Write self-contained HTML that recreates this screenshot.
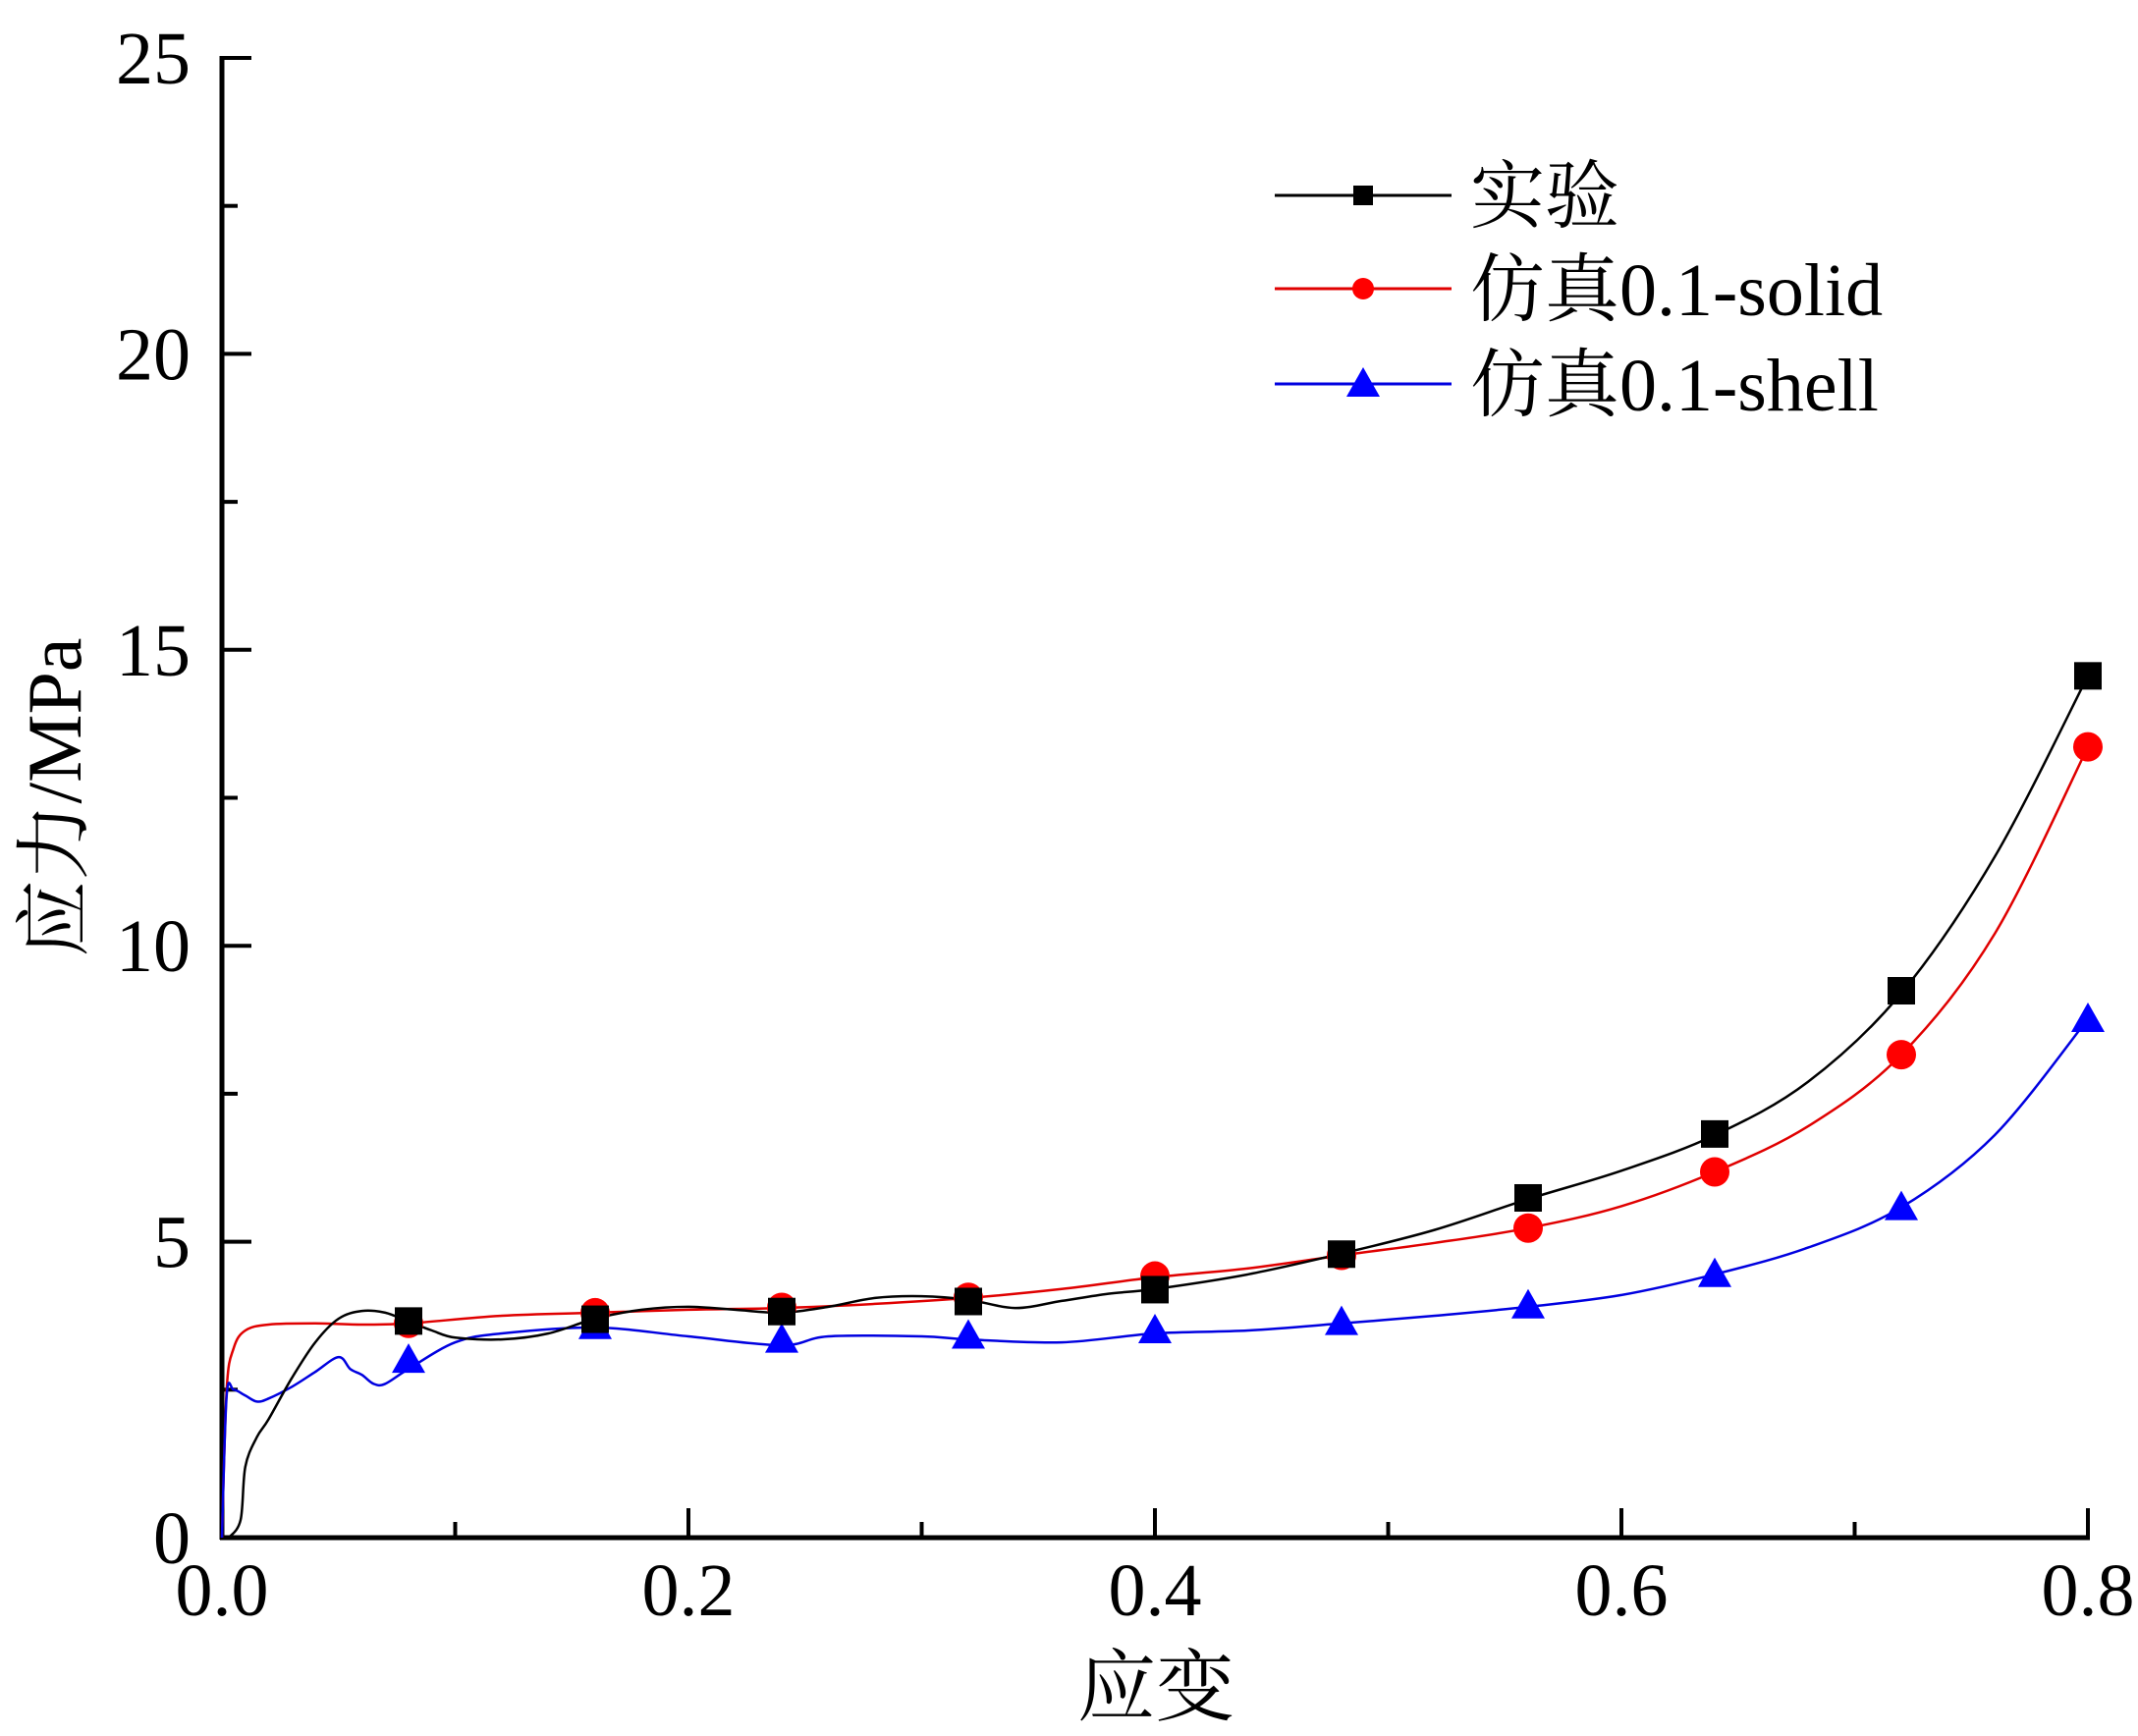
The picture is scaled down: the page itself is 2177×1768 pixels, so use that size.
<!DOCTYPE html>
<html><head><meta charset="utf-8">
<style>html,body{margin:0;padding:0;background:#fff}svg{display:block}</style></head>
<body>
<svg id="chart" width="2177" height="1768" xmlns="http://www.w3.org/2000/svg" font-family="'Liberation Serif','Noto Serif CJK SC','Noto Sans CJK SC',serif">
<g id="axes"></g>
<g id="series"></g>
<g id="legend"></g>
<text x="1177" y="1746" font-size="80" text-anchor="middle">应变</text>
<text transform="translate(82,812) rotate(-90)" font-size="78" text-anchor="middle">应力/MPa</text>
</svg>
<script>
const xTicks=[0,0.2,0.4,0.6,0.8];
const xTickLabels=["0.0","0.2","0.4","0.6","0.8"];
const yTicks=[0,5,10,15,20,25];
const yTickLabels=["0","5","10","15","20","25"];
const markerX=[0.08,0.16,0.24,0.32,0.40,0.48,0.56,0.64,0.72,0.80];
const expMarkers=[3.66,3.69,3.82,3.99,4.19,4.79,5.74,6.82,9.24,14.56];
const solidMarkers=[3.62,3.80,3.89,4.06,4.42,4.77,5.23,6.18,8.16,13.36];
const shellMarkers=[3.0,3.57,3.34,3.41,3.50,3.64,3.92,4.45,5.58,8.76];
const expX=[0.003,0.008,0.01,0.015,0.02,0.03,0.04,0.05,0.06,0.07,0.08,0.09,0.1,0.12,0.14,0.16,0.18,0.2,0.22,0.24,0.26,0.28,0.3,0.32,0.34,0.36,0.38,0.4,0.44,0.48,0.52,0.56,0.6,0.64,0.68,0.72,0.76,0.8];
const expY=[0,0.3,1.2,1.7,2.0,2.7,3.3,3.7,3.83,3.8,3.65,3.5,3.38,3.35,3.45,3.7,3.85,3.9,3.85,3.8,3.9,4.05,4.08,4.02,3.88,4.0,4.12,4.2,4.45,4.8,5.2,5.72,6.2,6.8,7.7,9.2,11.5,14.56];
const solidX=[0,0.002,0.005,0.01,0.02,0.04,0.06,0.08,0.12,0.16,0.2,0.24,0.28,0.32,0.36,0.4,0.44,0.48,0.52,0.56,0.6,0.64,0.68,0.72,0.76,0.8];
const solidY=[0,2.5,3.2,3.5,3.6,3.62,3.6,3.62,3.75,3.8,3.85,3.88,3.95,4.05,4.2,4.4,4.55,4.77,4.98,5.23,5.6,6.18,6.95,8.16,10.2,13.36];
const shellX=[0,0.002,0.005,0.01,0.015,0.02,0.03,0.04,0.05,0.055,0.06,0.065,0.07,0.08,0.1,0.12,0.16,0.2,0.24,0.26,0.3,0.32,0.36,0.4,0.44,0.48,0.52,0.56,0.6,0.64,0.68,0.72,0.76,0.8];
const shellY=[0,2.4,2.5,2.4,2.3,2.35,2.55,2.8,3.05,2.85,2.75,2.6,2.6,2.85,3.3,3.45,3.55,3.4,3.25,3.4,3.4,3.35,3.3,3.45,3.5,3.62,3.75,3.9,4.1,4.45,4.9,5.58,6.8,8.76];

const NS="http://www.w3.org/2000/svg";
const X0=226,X1=2126,Y0=1566,Y1=59;
const sx=v=>X0+(v/0.8)*(X1-X0);
const sy=v=>Y0-(v/25)*(Y0-Y1);
function mk(tag,parent,attrs){const e=document.createElementNS(NS,tag);for(const k in attrs)e.setAttribute(k,attrs[k]);parent.appendChild(e);return e;}
const axes=document.getElementById('axes');
let e;
e=mk('line',axes,{x1:X0,y1:Y0+2,x2:X0,y2:Y1-2,stroke:'#000','stroke-width':5});


e=mk('line',axes,{x1:X0-2,y1:Y0,x2:X1+2,y2:Y0,stroke:'#000','stroke-width':5});


xTicks.forEach((v,i)=>{
  e=mk('line',axes,{x1:sx(v),y1:Y0,x2:sx(v),y2:Y0-30,stroke:'#000','stroke-width':4});
  
  
  if(i<xTicks.length-1){e=mk('line',axes,{x1:sx(v+0.1),y1:Y0,x2:sx(v+0.1),y2:Y0-16,stroke:'#000','stroke-width':4});
  
  }
  e=mk('text',axes,{x:sx(v),y:1645,'font-size':76,'text-anchor':'middle'});
  e.textContent=xTickLabels[i];
  
  
});
yTicks.forEach((v,i)=>{
  e=mk('line',axes,{x1:X0,y1:sy(v),x2:X0+30,y2:sy(v),stroke:'#000','stroke-width':4});
  
  
  if(i<yTicks.length-1){e=mk('line',axes,{x1:X0,y1:sy(v+2.5),x2:X0+16,y2:sy(v+2.5),stroke:'#000','stroke-width':4});
  
  }
  e=mk('text',axes,{x:194,y:sy(v)+26,'font-size':76,'text-anchor':'end'});
  e.textContent=yTickLabels[i];
  
  
});
const ser=document.getElementById('series');
function line(xs,ys,color,name){
  const P=xs.map((x,i)=>[sx(x),sy(ys[i])]);
  let d='M'+P[0][0].toFixed(1)+','+P[0][1].toFixed(1);
  for(let i=0;i<P.length-1;i++){
    const p0=P[Math.max(0,i-1)],p1=P[i],p2=P[i+1],p3=P[Math.min(P.length-1,i+2)];
    const c1=[p1[0]+(p2[0]-p0[0])/6,p1[1]+(p2[1]-p0[1])/6];
    const c2=[p2[0]-(p3[0]-p1[0])/6,p2[1]-(p3[1]-p1[1])/6];
    d+='C'+c1.map(v=>v.toFixed(1)).join(',')+' '+c2.map(v=>v.toFixed(1)).join(',')+' '+p2.map(v=>v.toFixed(1)).join(',');
  }
  const el=mk('path',ser,{d:d,fill:'none',stroke:color,'stroke-width':2.5,'stroke-linejoin':'round'});
  
  
}
function marker(kind,x,y,color,parent){
  let m;
  if(kind==='sq')m=mk('rect',parent,{x:x-14,y:y-14,width:28,height:28,fill:color});
  else if(kind==='ci')m=mk('circle',parent,{cx:x,cy:y,r:15,fill:color});
  else m=mk('polygon',parent,{points:`${x},${y-17} ${x-17},${y+13} ${x+17},${y+13}`,fill:color});
  return m;
}
line(solidX,solidY,'#e00000','solid-line');
line(shellX,shellY,'#0000e0','shell-line');
line(expX,expY,'#000','experiment-line');
markerX.forEach((x,i)=>{
  let m=marker('ci',sx(x),sy(solidMarkers[i]),'#ff0000',ser);
  
  
  m=marker('tr',sx(x),sy(shellMarkers[i]),'#0000ff',ser);
  
  
  m=marker('sq',sx(x),sy(expMarkers[i]),'#000',ser);
  
  
});
const leg=document.getElementById('legend');
const legItems=[["实验",'#000','sq',199],["仿真0.1-solid",'#e00000','ci',294],["仿真0.1-shell",'#0000e0','tr',391]];
legItems.forEach(([t,c,k,y])=>{
  e=mk('line',leg,{x1:1298,y1:y,x2:1478,y2:y,stroke:c,'stroke-width':3});
  
  
  e=marker(k==='sq'?'sq':k,1388,y,k==='ci'?'#ff0000':(k==='tr'?'#0000ff':'#000'),leg);
  if(k==='sq'){e.setAttribute('x',1388-10);e.setAttribute('y',y-10);e.setAttribute('width',20);e.setAttribute('height',20);}
  if(k==='ci')e.setAttribute('r',11);
  
  
  e=mk('text',leg,{x:1497,y:y+27,'font-size':76});
  e.textContent=t;
  
  
});
</script>
</body></html>
